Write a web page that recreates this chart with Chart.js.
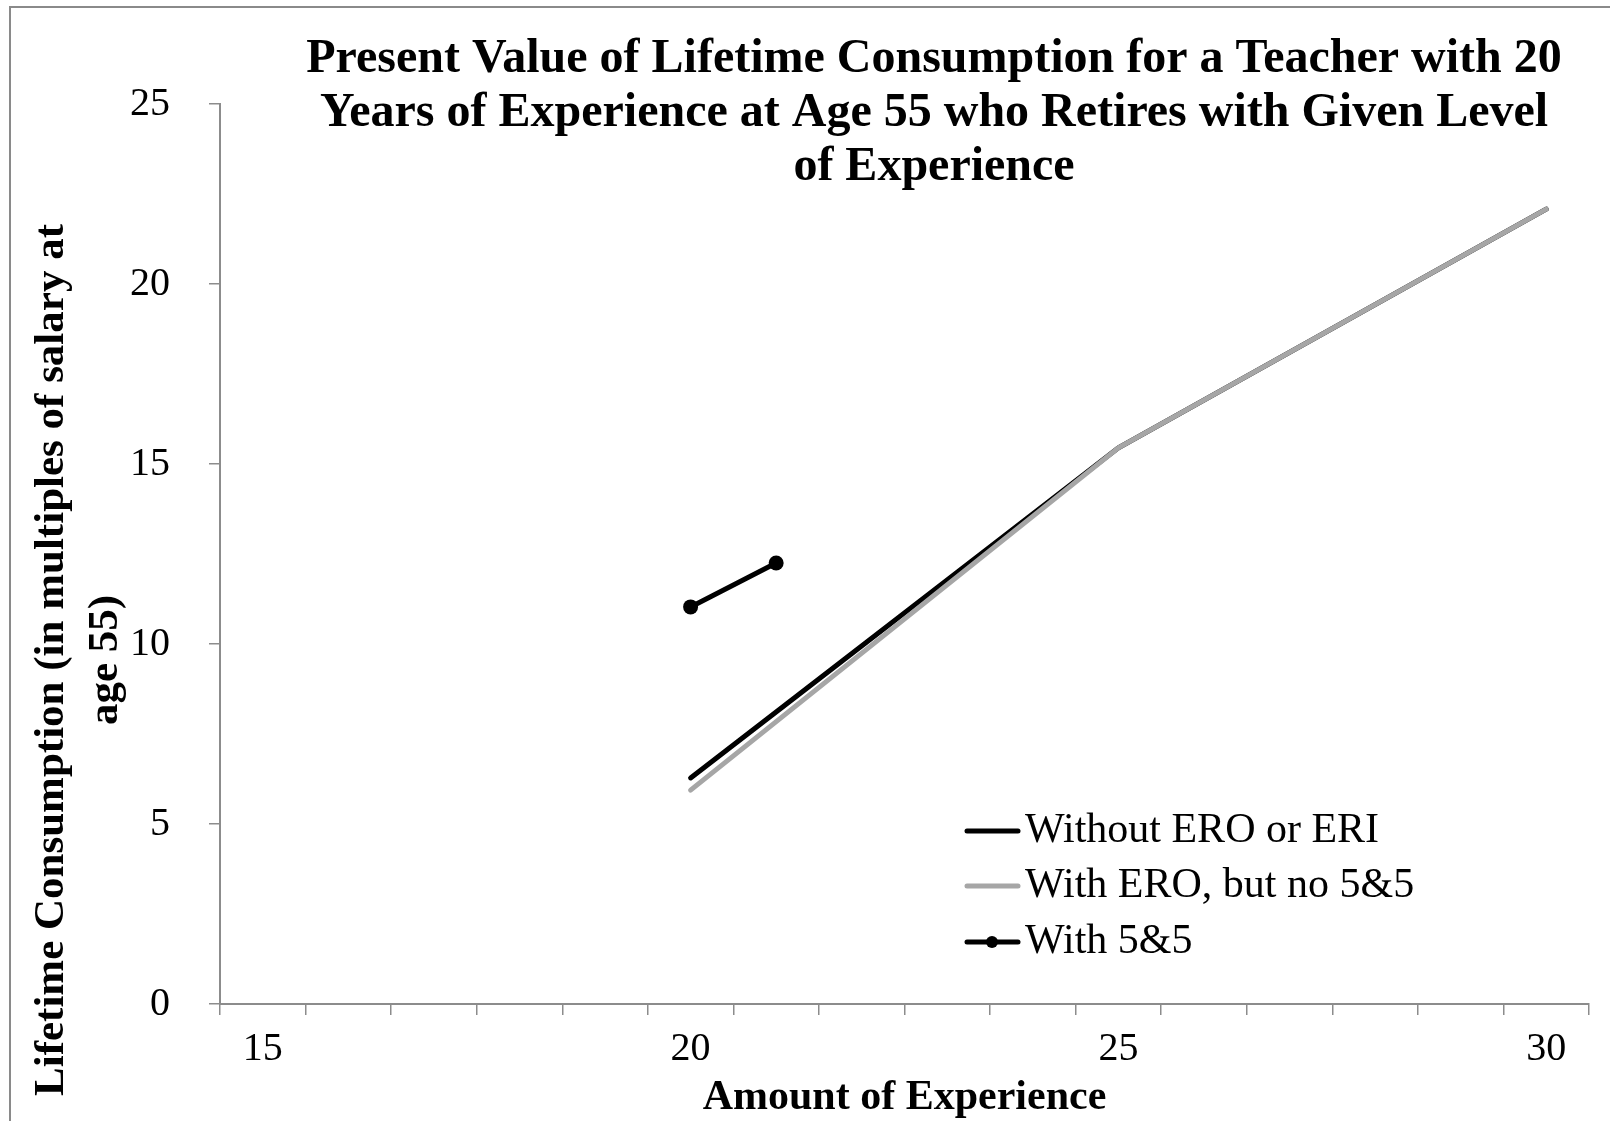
<!DOCTYPE html>
<html>
<head>
<meta charset="utf-8">
<title>Present Value of Lifetime Consumption</title>
<script src="https://cdn.jsdelivr.net/npm/chart.js@4/dist/chart.umd.min.js"></script>
<style>
  html, body { margin: 0; padding: 0; background: #ffffff; }
  #wrap { position: relative; width: 1610px; height: 1121px; overflow: hidden; }
</style>
</head>
<body>
<div id="wrap"><canvas id="chart" width="1610" height="1121"></canvas></div>
<script>
var experience = ['15', '16', '17', '18', '19', '20', '21', '22', '23', '24', '25', '26', '27', '28', '29', '30'];
var withoutEroEri = [null, null, null, null, null, 6.28, null, null, null, null, 15.45, null, null, null, null, 22.08];
var withEroNo55 = [null, null, null, null, null, 5.94, null, null, null, null, 15.45, null, null, null, null, 22.08];
var with55 = [null, null, null, null, null, 11.03, 12.25, null, null, null, null, null, null, null, null, null];
var seriesNames = ['Without ERO or ERI', 'With ERO, but no 5&5', 'With 5&5'];
var titleLines = [
  'Present Value of Lifetime Consumption for a Teacher with 20',
  'Years of Experience at Age 55 who Retires with Given Level',
  'of Experience'
];
var yTitleLines = ['Lifetime Consumption (in multiples of salary at', 'age 55)'];
var xTitle = 'Amount of Experience';

(function () {
  var SERIF = "'Times New Roman', 'Liberation Serif', serif";
  var AXIS_GREY = '#8c8c8c';

  // title, y title, legend and frame are drawn by hand to sit where the original has them
  var decorations = {
    id: 'decorations',
    afterDraw: function (chart) {
      var ctx = chart.ctx;
      ctx.save();

      ctx.strokeStyle = '#8a8a8a';
      ctx.lineWidth = 2;
      ctx.strokeRect(10, 7, 1700, 1300);

      ctx.fillStyle = '#000000';
      ctx.textAlign = 'center';
      ctx.textBaseline = 'alphabetic';
      ctx.font = 'bold 48px ' + SERIF;
      titleLines.forEach(function (line, i) {
        ctx.fillText(line, 934, 72 + i * 54);
      });

      ctx.save();
      ctx.translate(0, 660);
      ctx.rotate(-Math.PI / 2);
      ctx.font = 'bold 43px ' + SERIF;
      yTitleLines.forEach(function (line, i) {
        ctx.fillText(line, 0, 63 + i * 54);
      });
      ctx.restore();

      var legendX = 965;
      var rows = [831, 886, 942];
      ctx.textAlign = 'left';
      ctx.font = '42px ' + SERIF;
      chart.data.datasets.forEach(function (ds, i) {
        var y = rows[i];
        ctx.strokeStyle = ds.borderColor;
        ctx.lineWidth = ds.borderWidth;
        ctx.lineCap = 'round';
        ctx.beginPath();
        ctx.moveTo(legendX + 2, y);
        ctx.lineTo(legendX + 53, y);
        ctx.stroke();
        if (ds.pointRadius > 0) {
          ctx.fillStyle = ds.pointBackgroundColor;
          ctx.beginPath();
          ctx.arc(legendX + 27, y, 6, 0, Math.PI * 2);
          ctx.fill();
        }
        ctx.fillStyle = '#000000';
        ctx.fillText(ds.label, legendX + 60, y + 11);
      });

      ctx.restore();
    }
  };

  var ctx = document.getElementById('chart').getContext('2d');
  new Chart(ctx, {
    type: 'line',
    data: {
      labels: experience,
      datasets: [
        {
          label: seriesNames[0],
          data: withoutEroEri,
          borderColor: '#000000',
          borderWidth: 5,
          borderCapStyle: 'round',
          pointRadius: 0,
          spanGaps: true,
          order: 3
        },
        {
          label: seriesNames[1],
          data: withEroNo55,
          borderColor: '#a6a6a6',
          borderWidth: 5,
          borderCapStyle: 'round',
          pointRadius: 0,
          spanGaps: true,
          order: 2
        },
        {
          label: seriesNames[2],
          data: with55,
          borderColor: '#000000',
          borderWidth: 5,
          borderCapStyle: 'round',
          pointRadius: 7.5,
          pointBackgroundColor: '#000000',
          pointBorderColor: '#000000',
          pointBorderWidth: 0,
          spanGaps: false,
          order: 1
        }
      ]
    },
    options: {
      responsive: false,
      animation: false,
      devicePixelRatio: 1,
      layout: {
        padding: { top: 104, right: 21, bottom: 0, left: 0 }
      },
      plugins: {
        legend: { display: false },
        title: { display: false },
        tooltip: { enabled: false }
      },
      scales: {
        x: {
          type: 'category',
          offset: true,
          grid: {
            offset: true,
            drawOnChartArea: false,
            drawTicks: true,
            tickLength: 11,
            color: AXIS_GREY,
            lineWidth: 1.5
          },
          border: { color: AXIS_GREY, width: 2 },
          ticks: {
            autoSkip: false,
            maxRotation: 0,
            padding: 10,
            color: '#000000',
            font: { family: SERIF, size: 40 },
            callback: function (value, index) {
              var label = experience[index];
              return Number(label) % 5 === 0 ? label : '';
            }
          },
          title: {
            display: true,
            text: xTitle,
            color: '#000000',
            font: { family: SERIF, size: 42, weight: 'bold', lineHeight: 1.1 },
            padding: { top: 0, bottom: 0 }
          },
          afterFit: function (scale) {
            scale.height = 117;
          }
        },
        y: {
          min: 0,
          max: 25,
          grid: {
            drawOnChartArea: false,
            drawTicks: true,
            tickLength: 11,
            color: AXIS_GREY,
            lineWidth: 1.5
          },
          border: { color: AXIS_GREY, width: 2 },
          ticks: {
            stepSize: 5,
            padding: 39,
            color: '#000000',
            font: { family: SERIF, size: 40 }
          },
          afterFit: function (scale) {
            scale.width = 220;
          }
        }
      }
    },
    plugins: [decorations]
  });
})();
</script>
</body>
</html>
